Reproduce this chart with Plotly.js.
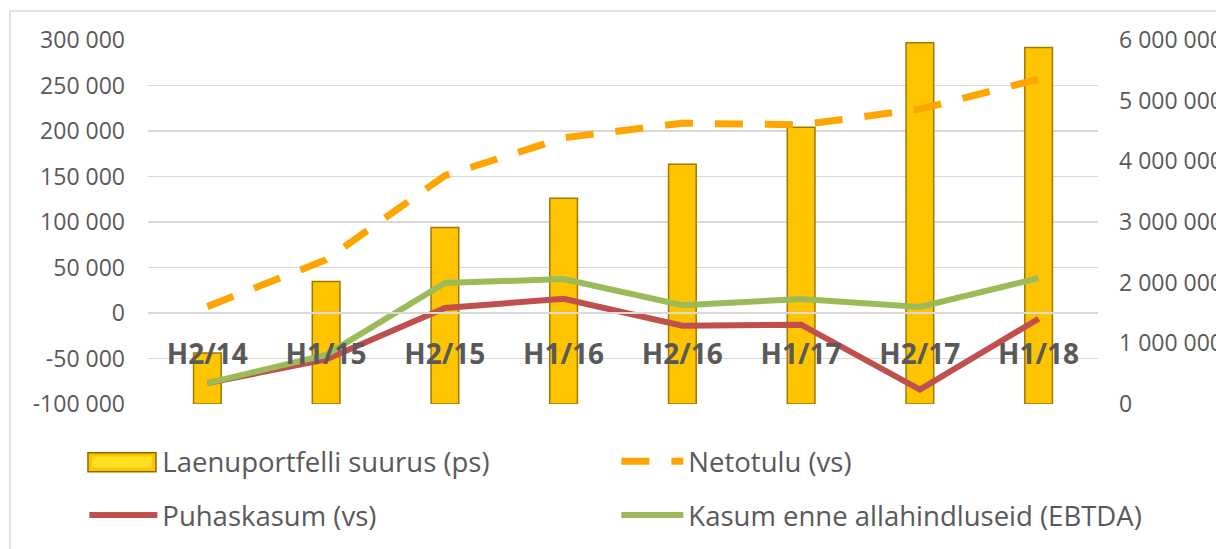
<!DOCTYPE html>
<html><head><meta charset="utf-8">
<script src="https://cdn.plot.ly/plotly-3.0.1.min.js"></script>
<style>html,body{margin:0;padding:0;background:#fff}#chart{width:1216px;height:549px}</style>
</head><body><div id="chart"></div>
<script>
const categories = ['H2/14','H1/15','H2/15','H1/16','H2/16','H1/17','H2/17','H1/18'];
const laenuportfell = [840000, 2020000, 2910000, 3390000, 3950000, 4560000, 5955000, 5875000];
const netotulu = [7000, 58500, 151000, 192500, 208600, 206700, 224000, 257000];
const puhaskasum = [-77000, -51000, 5500, 15700, -14000, -12800, -84200, -6300];
const ebtda = [-77000, -46000, 33000, 37300, 8500, 15400, 6600, 38400];
const seriesNames = ['Laenuportfelli suurus (ps)', 'Netotulu (vs)', 'Puhaskasum (vs)', 'Kasum enne allahindluseid (EBTDA)'];
const leftTickVals = [-100000, -50000, 0, 50000, 100000, 150000, 200000, 250000, 300000];
const leftTickText = ['-100 000', '-50 000', '0', '50 000', '100 000', '150 000', '200 000', '250 000', '300 000'];
const rightTickVals = [0, 1000000, 2000000, 3000000, 4000000, 5000000, 6000000];
const rightTickText = ['0', '1 000 000', '2 000 000', '3 000 000', '4 000 000', '5 000 000', '6 000 000'];

const FONT = 'Open Sans, Noto Sans, sans-serif';
const TXT = '#595959';

const traces = [
  {type:'bar', x:categories, y:laenuportfell, yaxis:'y', xaxis:'x', width:0.233,
   marker:{color:'#FFC400', line:{color:'#A07800', width:1.5}}, showlegend:false, name:seriesNames[0]},
  {type:'scatter', mode:'lines', x:[null], y:[null], yaxis:'y2', name:seriesNames[0], legend:'legend',
   line:{color:'rgba(0,0,0,0)', width:1}},
  {type:'scatter', mode:'lines', x:categories, y:netotulu, yaxis:'y2', name:seriesNames[1], legend:'legend2',
   line:{color:'#FFA500', width:7, dash:'28px,22px'}},
  {type:'scatter', mode:'lines', x:categories, y:puhaskasum, yaxis:'y2', name:seriesNames[2], legend:'legend3',
   line:{color:'#C0504D', width:6}},
  {type:'scatter', mode:'lines', x:categories, y:ebtda, yaxis:'y2', name:seriesNames[3], legend:'legend4',
   line:{color:'#9BBB59', width:6}}
];

function leg(x, y, w) {
  return {orientation:'v', xanchor:'left', yanchor:'top', x:x, y:y,
    font:{family:FONT, size:27.5, color:TXT}, itemwidth:w,
    bgcolor:'rgba(0,0,0,0)', borderwidth:0};
}

const layout = {
  width:1216, height:549,
  margin:{l:148, r:118, t:40, b:145, autoexpand:false},
  paper_bgcolor:'#ffffff', plot_bgcolor:'rgba(0,0,0,0)',
  font:{family:FONT, color:TXT},
  showlegend:true,
  legend:leg(-0.067, -0.09, 68),
  legend2:leg(0.493, -0.09, 62),
  legend3:leg(-0.067, -0.238, 68),
  legend4:leg(0.493, -0.238, 62),
  xaxis:{type:'category', anchor:'free', position:0.19, range:[-0.5, 7.5], showgrid:false, showline:false,
    zeroline:false, ticks:'', tickfont:{family:FONT, size:28, color:TXT, weight:'bold'}, fixedrange:true},
  yaxis:{side:'right', range:[0, 6000000], tickvals:rightTickVals, ticktext:rightTickText,
    showgrid:false, zeroline:false, showline:false, ticks:'', ticklabelstandoff:20,
    tickfont:{family:FONT, size:23, color:TXT}, fixedrange:true},
  yaxis2:{overlaying:'y', side:'left', range:[-100000, 300000], tickvals:leftTickVals, ticktext:leftTickText,
    showgrid:true, gridcolor:'#D9D9D9', gridwidth:1.5, zeroline:true, zerolinecolor:'#D9D9D9', zerolinewidth:1.5,
    zerolinelayer:'above traces', showline:false, ticks:'', ticklabelstandoff:22,
    tickfont:{family:FONT, size:23, color:TXT}, fixedrange:true},
  shapes:[
    {type:'rect', xref:'paper', yref:'paper', x0:-0.1453, x1:1.3, y0:-0.6, y1:1.0796,
     line:{color:'#D9D9D9', width:1.5}, fillcolor:'rgba(0,0,0,0)', layer:'below'},
    {type:'rect', xref:'paper', yref:'paper', x0:-0.0632, x1:0.0084, y0:-0.1858, y1:-0.1337,
     line:{color:'#8C6A00', width:1.5}, fillcolor:'#FFC400', layer:'above'},
    {type:'rect', xref:'paper', yref:'paper', x0:-0.0590, x1:0.0042, y0:-0.1750, y1:-0.1445,
     line:{width:0}, fillcolor:'#FFE020', layer:'above'}
  ]
};

Plotly.newPlot('chart', traces, layout, {displayModeBar:false, staticPlot:true});
</script>
</body></html>
